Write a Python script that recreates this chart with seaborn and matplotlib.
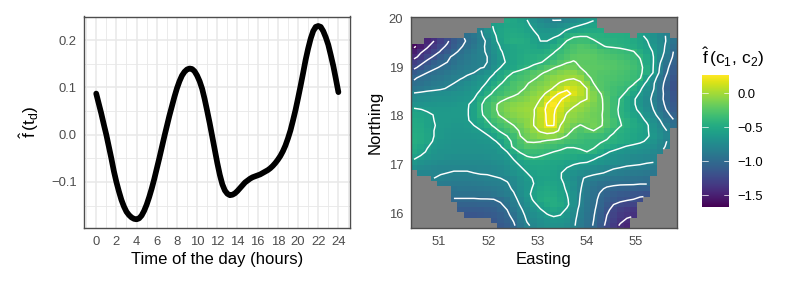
"""Hour-of-day effect and spatial effect, two panels side by side."""
import numpy as np
import pandas as pd
import matplotlib
matplotlib.use("Agg")
import matplotlib.pyplot as plt
import seaborn as sns

# left panel: estimated effect by hour
hours = [0, 0.25, 0.5, 0.75, 1, 1.25, 1.5, 1.75, 2, 2.25, 2.5, 2.75, 3, 3.25, 3.5, 3.75,
         4, 4.25, 4.5, 4.75, 5, 5.25, 5.5, 5.75, 6, 6.25, 6.5, 6.75, 7, 7.25, 7.5, 7.75,
         8, 8.25, 8.5, 8.75, 9, 9.25, 9.5, 9.75, 10, 10.25, 10.5, 10.75, 11, 11.25, 11.5, 11.75,
         12, 12.25, 12.5, 12.75, 13, 13.25, 13.5, 13.75, 14, 14.25, 14.5, 14.75, 15, 15.25, 15.5, 15.75,
         16, 16.25, 16.5, 16.75, 17, 17.25, 17.5, 17.75, 18, 18.25, 18.5, 18.75, 19, 19.25, 19.5, 19.75,
         20, 20.25, 20.5, 20.75, 21, 21.25, 21.5, 21.75, 22, 22.25, 22.5, 22.75, 23, 23.25, 23.5, 23.75, 24]
effect = [0.087, 0.066, 0.045, 0.022, 0.0, -0.025, -0.05, -0.077, -0.1, -0.12, -0.138, -0.152,
          -0.163, -0.17, -0.175, -0.178, -0.179, -0.177, -0.171, -0.161, -0.148, -0.132, -0.114, -0.094,
          -0.072, -0.05, -0.027, -0.004, 0.018, 0.04, 0.06, 0.08, 0.098, 0.113, 0.125, 0.133,
          0.138, 0.14, 0.139, 0.134, 0.125, 0.113, 0.097, 0.075, 0.05, 0.024, -0.004, -0.032,
          -0.06, -0.085, -0.105, -0.118, -0.125, -0.128, -0.127, -0.124, -0.119, -0.113, -0.107, -0.101,
          -0.097, -0.093, -0.09, -0.088, -0.086, -0.084, -0.081, -0.078, -0.075, -0.071, -0.066, -0.06,
          -0.053, -0.045, -0.035, -0.023, -0.008, 0.009, 0.03, 0.052, 0.077, 0.103, 0.13, 0.158,
          0.182, 0.203, 0.219, 0.228, 0.23, 0.228, 0.219, 0.206, 0.19, 0.168, 0.145, 0.118, 0.09]
hour_ticks = list(range(0, 25, 2))
effect_ticks = [-0.1, 0.0, 0.1, 0.2]
effect_labels = ["\u22120.1", "0.0", "0.1", "0.2"]

# right panel: spatial effect in hundredths, one list per row from north to south
first_col = [14, 12, 10, 8, 2] + [0] * 24 + [1, 3, 4, 6, 6, 6, 7, 7, 8, 12, 13]
field_rows = [
    [-50, -52, -56, -60, -68, -74, -78, -80.5, -80.5, -77, -73, -69, -65, -61],
    [-58, -55, -52, -53, -54, -57, -64, -70, -73, -74, -71, -67, -63, -60, -57, -54],
    [-81, -70, -60, -54, -51, -51, -52, -55, -60, -65, -66, -65, -63, -59, -55, -53, -51, -50, -49],
    [-95, -90, -83, -73, -63, -54, -50, -49, -50, -52, -58, -61, -62, -62, -59, -47, -42, -41, -41, -43, -44, -45, -46, -47, -48, None, -57, -63, -70, -76, -81],
    [-147, -140, -130, -122, -113, -106, -98, -92, -85, -78, -65, -55, -49, -47, -48, -50, -55, -60, -60, -56, -48, -39.5, -35, -33, -34, -39, -42, -43, -44, -45, -47, -50, -54, -59, -67, -74, -81, -92],
    [-163, -152, -142, -133, -124, -118, -110, -102, -95, -89, -83, -78, -68, -59, -55, -52, -50, -50, -52, -55, -54, -47, -41, -34, -29, -26, -27, -31, -38, -41, -42, -43, -45, -48, -52, -57, -64, -73, -83, -97],
    [-152, -142, -135, -127, -119, -112, -104, -97, -91, -86, -82, -79, -70, -61, -57, -53, -51, -49, -50, -50, -47, -41, -36, -31, -27, -24, -24, -26, -29, -31, -33, -35, -37, -39.5, -47, -54, -61, -72, -85, -100],
    [-145, -135, -126, -118, -110, -103, -97, -92, -88, -84, -81, -80, -72, -63, -57, -53, -50, -47, -46, -44, -41, -37, -32, -27, -23, -21, -21, -23, -26, -27, -29, -31, -33, -36, -41, -50, -60, -75, -88, -102],
    [-132, -125, -116, -108, -103, -100, -95, -90, -87, -84, -82, -80, -73, -65, -58, -54, -50, -47, -44, -41, -37, -31, -26, -21, -19, -22, -23, -23, -24, -25, -26, -28, -30, -33, -38, -50, -60, -79, -92, -106],
    [-124, -115, -108, -102, -99, -95, -91, -88, -85, -83, -81, -79, -70, -60, -56, -52, -47, -41, -36, -31, -26, -21, -17, -14, -15, -20, -21, -22, -23, -24, -25, -27, -29, -32, -36, -47, -60.5, -82, -96, -110],
    [-111, -105, -100, -97, -93, -90, -87, -85, -82, -80, -74, -68, -61, -53, -46, -39, -34, -30, -26, -22, -18, -14, -10, -7, -7, -12, -21, -23, -25, -26, -27, -29, -31, -34, -38, -45, -61, -84, -99, -112],
    [-102, -97, -94, -91, -89, -86, -83, -81, -78, -72, -67, -62, -57, -50, -39, -34, -30, -27, -22, -17, -11, -7, -4, -2, -1, -4, -16, -23, -26, -27, -28, -30, -32, -35, -39, -55, -72, -90, -103, -115],
    [-97, -94, -91, -88, -86, -83, -80, -76, -72, -68, -64, -59, -50, -41, -36, -29, -26, -21, -16, -12, -8, -3, 1, 4, 6, 2, -7, -20, -25, -28, -30, -32, -35, -38, -51, -63, -78, -93, -106, -117],
    [-91, -89, -86, -84, -82, -79, -76, -73, -70, -65, -61, -52, -42, -36, -32, -28, -23, -18, -12, -8, -4, 1, 8, 18, 13, 8, 0, -14, -25, -29, -32, -35, -38, -47, -57, -70, -79, -94, -108, -118],
    [-78, -76, -74, -73, -72, -71, -70, -68, -66, -63, -57, -45, -37, -33, -28, -24, -18, -13, -8, -4, 2, 14, 23, 24, 17, 8, 0, -10, -19, -27, -32, -36, -43, -53, -62, -72, -82, -94, -106, -116],
    [-74, -72, -71, -70, -69, -68, -67, -66, -64, -60, -46, -37, -31, -25, -19, -14, -11, -8, -4, 0, 13, 23, 22, 14, 7, 3, 0, -9, -17, -26, -34, -41, -50, -58, -66, -74, -84, -95, -106, -115],
    [-69, -67, -66, -66, -65, -65, -64, -63, -61, -57, -42, -33, -25, -15, -11, -8, -6, -4, -2, 2, 21, 26, 17, 8, 3, -2, -7, -12, -17, -25, -33, -42, -50, -58, -66, -74, -82, -93, -104, -113],
    [-57, -59.5, -62, -63, -63, -63, -62, -62, -61, -55, -42, -33, -24, -15, -10, -6, -4, -2, -1, 12, 23, 22, 13, 3, -3, -6, -10, -14, -17, -25, -34, -43, -50, -57, -63, -72, -80, -91, -101, -111],
    [-53, -54, -57, -60.5, -62, -62, -62, -62, -61, -55, -43, -34, -26, -18, -13, -9, -6, -4, -1, 10, 22, 21, 9, -2, -6, -10, -13, -16, -18, -25, -34, -42, -48, -54, -59, -67, -76, -86, -95, -106],
    [-51, -52, -55, -60, -62, -62, -63, -63, -61, -57, -50, -40, -32, -26, -19, -14, -10, -7, 0, 8, 22, 21, 6, -5, -9, -12, -14, -15, -18, -24, -31, -40, -44, -50, -56, -62, -71, -80, -90, -99],
    [-50, -51, -55, -59.5, -62, -63, -64, -64, -63, -60, -53, -45, -38, -31, -26, -20, -14, -7, 0, 8, 20.5, 20.5, 0, -8, -15, -21, -17, -14, -18, -25, -32, -39, -44, -49, -53, -58, -67, -76, -85, -97],
    [-49, -50, -54, -60, -63, -64, -65, -65, -64, -62, -61, -54, -46, -38, -32, -26, -18, -12, -5, 2, 6, 5, -2, -12, -23, -27, -23, -20, -26, -33, -38, -44, -48, -51, -54, -58, -66, -73, -80],
    [-48, -49, -53, -60, -63, -65, -66, -66, -66, -65, -64, -62, -55, -47, -40, -33, -20, -16, -11, -7, -5, -7, -12, -21, -27, -31, -33, -33, -35, -38, -42, -46, -49, -52, -55, -58, -64, -71, -78],
    [-47, -49, -53, -62, -65, -66, -67, -67, -67, -67, -66, -65, -62, -56, -44, -37, -28, -19, -18, -19, -23, -25, -27, -31, -33, -35, -37, -38, -39, -41, -44, -47, -50, -53, -57, -62, -67, -74, -80],
    [-49, -53, -59, -64, -66, -67, -68, -68, -68, -68, -68, -67, -65, -61, -48, -37, -31, -26, -27, -29, -31, -33, -36, -39, -39, -38, -38, -39, -42, -46, -51, -57, -61, -64, -66, -69, -72, -77, -81],
    [-51, -55, -62, -66, -68, -69, -69, -70, -70, -70, -70, -69, -68, -64, -60, -48, -38, -34, -34, -35, -37, -40, -42, -44, -44, -42, -40, -42, -49, -58, -63, -66, -68, -70, -71, -73, -76, -79],
    [-57, -62, -66, -69, -70, -71, -72, -72, -72, -72, -72, -71, -70, -68, -64, -58, -49, -41, -39, -41, -44, -46, -48, -49, -50, -52, -54, -57, -61, -65, -69, -71, -73, -75, -76, -77, -79],
    [-64, -68, -71, -73, -74, -75, -75, -75, -75, -75, -75, -74, -73, -71, -67, -62, -57, -53, -50, -50, -51, -52, -53, -55, -57, -59, -60, -63, -66, -69, -71, -73, -75, -76, -77, -79, -80],
    [-71, -74, -76, -77, -78, -78, -78, -78, -78, -78, -77, -77, -76, -74, -71, -66, -61, -56, -53, -52, -53, -54, -56, -60, -64, -67, -70, -73, -75, -77, -79, -80, -82, -83, -84, -85, -86],
    [-78, -78, -79, -79, -80, -81, -81, -81, -80, -79, -79, -78, -76, -73, -69, -64, -60, -56, -54, -54, -55, -59, -65, -69, -72, -75, -77, -79, -81, -83, -85, -86, -87, -88, -89, -90],
    [-80, -82, -83, -84, -84, -84, -84, -83, -82, -81, -80, -78, -74, -69, -63, -59, -56, -55, -56, -59, -66, -72, -78, -82, -85, -87, -89, -90, -91, -92, -93, -94, -96],
    [-86, -87, -88, -88, -88, -87, -86, -85, -84, -83, -81, -76, -70, -65, -60, -55, -53, -54, -57, -63, -70, -78, -85, -90, -94, -96, -97, -98, -98, -98, -99, -99],
    [-92, -91, -91, -91, -90, -89, -88, -86, -83, -78, -71, -65, -58, -53, -51, -52, -55, -62, -71, -79, -87, -93, -98, -102, -104, -105, -106, -107, -108, -108],
    [-95, -95, -95, -95, -94, -93, -91, -88, -85, -81, -72, -64, -56, -51, -49, -50, -54, -60, -69, -80, -88, -95, -101, -105, -109, -112, -113, -115, -116, -117],
    [-101, -101, -101, -101, -100.5, -100.5, -100, -97, -91, -84, -76, -67, -58, -50, -47, -48, -52, -58, -69, -81, -89, -96, -103, -109, -113, -116, -118, -120, -123],
    [-106, -106, -106, -105, -105, -104, -102, -95, -86, -79, -71, -63, -56, -50, -48, -50, -57, -69, -82, -90, -97, -104, -113, -120, -124, -127, -128],
    [-111, -111, -111, -111, -110, -108, -104, -100, -90, -82, -75, -68, -61, -56, -52, -55, -62, -73, -84, -91, -98, -106, -116, -126, -131, -134, -136],
    [-115, -115, -114, -113, -111, -108, -103, -95, -85, -77, -72, -67, -61, -58, -60, -66, -75, -85, -92, -99, -108, -120, -128, -134, -137, -139],
    [-114, -110, -106, -99, -88, -79, -75, -71, -67, -65, -66, -70, -77, -86, -93, -100, -110, -122, -130, -137, -142],
    [-113, -109, -102, -91, -82, -77, -73, -70, -69, -70, -73, -78, -87, -94, -101, -113, -124, -133, -142, -147],
]
easting_ticks = [51, 52, 53, 54, 55]
northing_ticks = [16, 17, 18, 19, 20]
colorbar_ticks = [-1.5, -1.0, -0.5, 0.0]
colorbar_labels = ["\u22121.5", "\u22121.0", "\u22120.5", "0.0"]
contour_levels = [-1.6, -1.4, -1.2, -1.0, -0.8, -0.6, -0.4, -0.2, 0.0, 0.2]

FIG_W, FIG_H = 789, 286
N_COLS, N_ROWS = 40, 40
EAST_MIN, EAST_MAX = 50.425, 55.826
NORTH_MIN, NORTH_MAX = 15.69, 20.03


def axes_px(fig, left, top, right, bottom):
    return fig.add_axes([left / FIG_W, 1 - bottom / FIG_H, (right - left) / FIG_W, (bottom - top) / FIG_H])


def build_field():
    field = np.full((N_ROWS, N_COLS), np.nan)
    for i, (start, row) in enumerate(zip(first_col, field_rows)):
        field[i, start:start + len(row)] = np.array(row, dtype=float) / 100
    return field


def style_panel(ax):
    for side in ax.spines.values():
        side.set_visible(True)
        side.set_color("#4d4d4d")
        side.set_linewidth(1.0)
    ax.tick_params(length=2.6, width=0.8, color="#333333", labelcolor="#4d4d4d", labelsize=9.4, pad=2.8)


def plot_hours(ax):
    df = pd.DataFrame({"hour": hours, "effect": effect})
    sns.lineplot(data=df, x="hour", y="effect", color="black", linewidth=4.1, ax=ax)
    ax.set_xlim(-1.18, 25.18)
    ax.set_ylim(-0.198, 0.25)
    ax.set_xticks(hour_ticks)
    ax.set_yticks(effect_ticks)
    ax.set_yticklabels(effect_labels)
    ax.set_xticks(np.arange(-1, 26, 2), minor=True)
    ax.set_yticks(np.arange(-0.15, 0.26, 0.1), minor=True)
    ax.grid(which="major", color="#e8e8e8", linewidth=1.1)
    ax.grid(which="minor", color="#e8e8e8", linewidth=0.6)
    ax.set_axisbelow(True)
    style_panel(ax)
    ax.tick_params(which="minor", length=0)
    ax.set_xlabel("Time of the day (hours)", fontsize=12, labelpad=3, color="black")
    ax.set_ylabel(r"$\hat{\mathrm{f}}\,(\mathrm{t_d})$", fontsize=12.5, labelpad=7, color="black")


def plot_field(ax, cax):
    field = build_field()
    ax.set_facecolor("#7f7f7f")
    sns.heatmap(field, cmap="viridis", vmin=-1.67, vmax=0.27, ax=ax, cbar_ax=cax,
                xticklabels=False, yticklabels=False)
    col_pos = np.arange(N_COLS) + 0.5
    row_pos = np.arange(N_ROWS) + 0.5
    ax.contour(col_pos, row_pos, field, levels=contour_levels, colors="white",
               linewidths=1.05, linestyles="solid")

    dx = (EAST_MAX - EAST_MIN) / N_COLS
    dy = (NORTH_MAX - NORTH_MIN) / N_ROWS
    ax.set_xticks([(e - EAST_MIN) / dx for e in easting_ticks])
    ax.set_xticklabels(easting_ticks, rotation=0)
    ax.set_yticks([(NORTH_MAX - n) / dy for n in northing_ticks])
    ax.set_yticklabels(northing_ticks, rotation=0)
    style_panel(ax)
    ax.set_xlabel("Easting", fontsize=12, labelpad=3, color="black")
    ax.set_ylabel("Northing", fontsize=12, labelpad=4, color="black")

    cax.set_yticks(colorbar_ticks)
    cax.set_yticklabels(colorbar_labels)
    cax.tick_params(length=0, labelsize=9.4, labelcolor="black", pad=6)
    for v in colorbar_ticks:
        cax.plot([0, 0.2], [v, v], color="white", linewidth=0.5, transform=cax.get_yaxis_transform())
        cax.plot([0.8, 1], [v, v], color="white", linewidth=0.5, transform=cax.get_yaxis_transform())
    for side in cax.spines.values():
        side.set_visible(False)


def main():
    sns.set_theme(style="white")
    plt.rcParams["font.family"] = ["Liberation Sans", "DejaVu Sans"]
    plt.rcParams["mathtext.fontset"] = "custom"
    plt.rcParams["mathtext.rm"] = "Liberation Sans"
    plt.rcParams["mathtext.it"] = "Liberation Sans:italic"
    plt.rcParams["axes.unicode_minus"] = True

    fig = plt.figure(figsize=(FIG_W / 100, FIG_H / 100), dpi=100)
    ax_hours = axes_px(fig, 84.3, 16.5, 350.3, 228.3)
    ax_field = axes_px(fig, 410.7, 17.3, 676.7, 228.3)
    cax = axes_px(fig, 702.3, 75, 729, 206.7)

    plot_hours(ax_hours)
    plot_field(ax_field, cax)

    fig.text(702 / FIG_W, 1 - 64 / FIG_H, r"$\hat{\mathrm{f}}\,(\mathrm{c_1,\,c_2})$",
             fontsize=12.5, ha="left", va="baseline", color="black")
    fig.savefig("out.png", dpi=100)
    plt.close(fig)


if __name__ == "__main__":
    main()
